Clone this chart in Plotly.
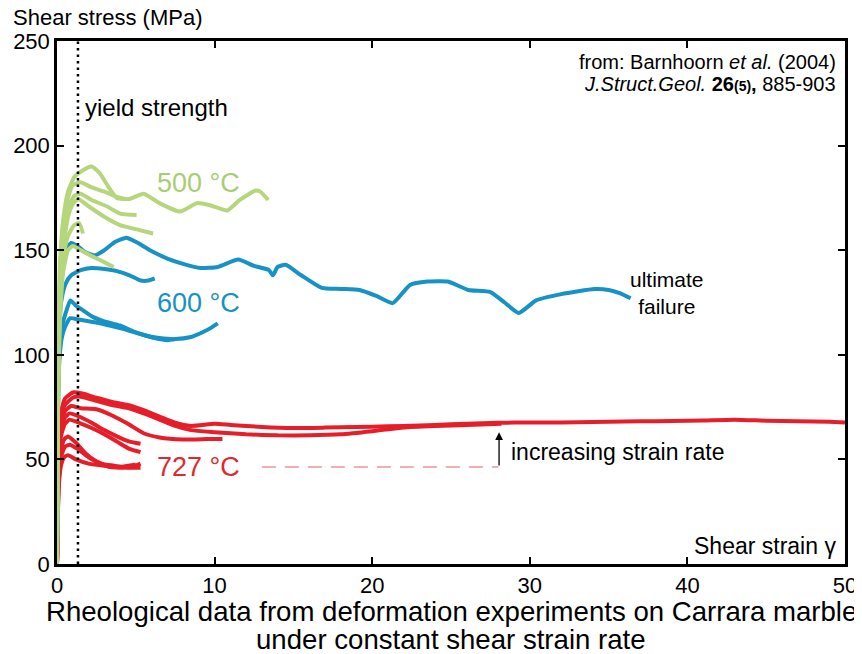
import plotly.graph_objects as go

# ---------------- data ----------------
# 727 °C (red)
r1_x = [0, 0.05, 0.12, 0.25, 0.5, 1.0, 1.6, 2.5, 3.5, 4.5, 5.5, 6.5, 7.5, 8.5, 10, 11, 13, 15, 17, 19, 21, 23, 25, 27, 29, 31, 33, 35, 37, 39, 41, 43, 45, 47, 49, 50]
r1_y = [0, 35, 60, 72, 79, 82, 81.5, 79.5, 77.5, 76, 73.5, 70.5, 67.5, 66, 67, 66.5, 65.5, 65, 65.2, 65.5, 65.8, 66.2, 66.8, 67.3, 67.6, 67.6, 67.8, 68, 68.2, 68.3, 68.6, 69, 68.5, 68.2, 68, 67.6]
r2_x = [0, 0.05, 0.12, 0.25, 0.5, 1.0, 1.5, 2.5, 3.5, 4.5, 5.5, 6.5, 7.5, 8.5, 10, 12, 14, 16, 18, 20, 22, 24, 26, 28.2]
r2_y = [0, 33, 58, 70, 76, 79.5, 80, 78, 76, 74.5, 72, 69, 66, 64, 63, 62, 61.5, 61.5, 62, 63.5, 65.3, 66, 66.5, 67]
r3_x = [0, 0.05, 0.12, 0.25, 0.5, 0.9, 1.5, 2.5, 3.5, 4.5, 5.5, 6.5, 8, 9.5, 10.5]
r3_y = [0, 30, 55, 67, 73, 75.5, 74.5, 74, 71, 67, 62.5, 60.5, 59.5, 59.7, 59.8]
r4_x = [0, 0.05, 0.12, 0.25, 0.5, 0.8, 1.4, 2.2, 3.0, 3.8, 4.6, 5.3]
r4_y = [0, 30, 52, 63, 70, 72, 70.5, 67.5, 64, 61, 58.5, 57.5]
r5_x = [0, 0.05, 0.12, 0.25, 0.5, 0.8, 1.4, 2.2, 3.0, 3.8, 4.6, 5.3]
r5_y = [0, 28, 50, 61, 67, 69, 67.5, 65, 62, 58.5, 55, 53.5]
r6_x = [0, 0.05, 0.12, 0.25, 0.45, 0.7, 1.2, 1.8, 2.5, 3.3, 4.2, 5.0, 5.3]
r6_y = [0, 25, 44, 54, 59.5, 61, 58, 53, 49, 46.5, 46, 47, 48]
r7_x = [0, 0.05, 0.12, 0.25, 0.5, 0.8, 1.3, 2.0, 2.8, 3.6, 4.5, 5.3]
r7_y = [0, 23, 41, 51, 56, 57, 55, 51, 48, 47, 46, 46]
r8_x = [0, 0.05, 0.12, 0.25, 0.45, 0.7, 1.2, 2.0, 3.0, 4.0, 5.0]
r8_y = [0, 22, 38, 47, 51, 52, 50, 48, 47, 46.5, 47.5]

# 600 °C (blue)
b1_x = [0, 0.03, 0.08, 0.15, 0.3, 0.55, 0.9, 1.3, 1.8, 2.4, 3.0, 3.7, 4.4, 5.0, 5.9, 7.0, 8.0, 9.1, 10.2, 11.5, 12.5, 13.45, 13.7, 14.0, 14.5, 15.5, 16.8, 18.0, 19.2, 20.3, 21.3, 22.4, 23.5, 24.8, 26.1, 27.5, 28.4, 29.3, 30.4, 32, 34.1, 35.0, 35.7, 36.4]
b1_y = [0, 60, 100, 125, 140, 150, 153.5, 152, 149, 147.5, 150, 154, 156, 154, 150, 146, 143.5, 141.5, 142, 145.5, 142.5, 140.5, 138, 142, 143, 138, 132, 131.5, 131, 128, 124.7, 133.4, 135, 135, 131, 130, 125, 120, 126, 129, 131.4, 131, 129.5, 127]
b2_x = [0, 0.03, 0.08, 0.15, 0.3, 0.55, 0.9, 1.5, 2.2, 3.0, 3.8, 4.6, 5.3, 5.8, 6.2]
b2_y = [0, 55, 95, 115, 127, 134, 138, 140.5, 141.5, 141, 140, 138, 135.5, 135.5, 136.5]
b3_x = [0, 0.03, 0.08, 0.15, 0.3, 0.55, 0.85, 1.2, 1.7, 2.3, 3.0, 4.0, 4.9, 5.7, 6.5, 7.5, 8.5, 9.3, 9.8, 10.2]
b3_y = [0, 50, 85, 103, 113, 120, 126, 123.5, 121, 118, 116, 114, 111, 109, 108, 107.5, 108.5, 111, 113, 115]
b4_x = [0, 0.03, 0.08, 0.15, 0.3, 0.55, 0.85, 1.3, 2.0, 2.8, 3.6, 4.4, 5.3, 6.2, 7.0, 7.5]
b4_y = [0, 48, 80, 97, 108, 114, 117.5, 117, 116, 115, 113.5, 112, 110, 108, 107, 107.5]

# 500 °C (green)
g1_x = [0, 0.04, 0.1, 0.2, 0.4, 0.7, 1.1, 1.6, 2.2, 2.7, 3.2, 3.8, 4.6, 5.5, 6.5, 7.8, 8.9, 9.7, 10.8, 11.6, 12.6, 12.9, 13.4]
g1_y = [0, 70, 115, 145, 165, 178, 185, 188, 190, 187, 181, 175, 174.5, 177, 172.5, 168.5, 172.5, 171.5, 169, 174, 178.5, 178, 174]
g2_x = [0, 0.04, 0.1, 0.2, 0.4, 0.7, 1.0, 1.5, 2.2, 3.0, 3.8, 4.3]
g2_y = [0, 68, 110, 140, 162, 175, 181, 182.5, 180, 178, 175.5, 174.5]
g3_x = [0, 0.04, 0.1, 0.2, 0.4, 0.7, 1.1, 1.5, 2.2, 3.15, 4.0, 5.05]
g3_y = [0, 65, 105, 135, 157, 170, 176, 177, 174, 171, 167.5, 166.8]
g4_x = [0, 0.04, 0.1, 0.2, 0.4, 0.7, 1.0, 1.35, 2.0, 3.0, 4.0, 5.3, 6.1]
g4_y = [0, 63, 100, 130, 152, 166, 172, 174.5, 171, 166, 162, 159.5, 158]
g5_x = [0, 0.04, 0.1, 0.2, 0.4, 0.7, 1.1, 1.4, 1.65]
g5_y = [0, 60, 95, 125, 147, 157, 162, 163, 158]
g6_x = [0, 0.04, 0.1, 0.2, 0.4, 0.7, 1.0, 1.4, 2.0, 2.8, 3.6]
g6_y = [0, 58, 90, 118, 140, 150, 152, 150.5, 148, 145, 142]

x_ticks = [0, 10, 20, 30, 40, 50]
y_ticks = [0, 50, 100, 150, 200, 250]
yield_strain = 1.33

RED = "#e61e2a"
BLUE = "#1692c4"
GREEN = "#b6d67c"
FONT = "Liberation Sans, Arial, sans-serif"

fig = go.Figure()

def add(xs, ys, color):
    fig.add_trace(go.Scatter(x=xs, y=ys, mode="lines",
                             line=dict(color=color, width=4, shape="spline", smoothing=0.5),
                             hoverinfo="skip", showlegend=False))

for xs, ys in [(r8_x, r8_y), (r7_x, r7_y), (r6_x, r6_y), (r5_x, r5_y), (r4_x, r4_y),
               (r3_x, r3_y), (r2_x, r2_y), (r1_x, r1_y)]:
    add(xs, ys, RED)
for xs, ys in [(b4_x, b4_y), (b3_x, b3_y), (b2_x, b2_y), (b1_x, b1_y)]:
    add(xs, ys, BLUE)
for xs, ys in [(g6_x, g6_y), (g5_x, g5_y), (g4_x, g4_y), (g3_x, g3_y), (g2_x, g2_y), (g1_x, g1_y)]:
    add(xs, ys, GREEN)

# yield strength dotted line
fig.add_shape(type="line", x0=yield_strain, x1=yield_strain, y0=0, y1=250, xref="x", yref="y",
              line=dict(color="black", width=2.5, dash="2.5px,4px"))
# dashed strain-rate line
fig.add_shape(type="line", x0=13.0, x1=28.0, y0=46.4, y1=46.4, xref="x", yref="y",
              line=dict(color="#e8979a", width=1.5, dash="14px,9px"))

ann = []
ann.append(dict(x=28.05, y=63.0, ax=28.05, ay=46.4, xref="x", yref="y", axref="x", ayref="y",
                showarrow=True, arrowhead=2, arrowsize=1.2, arrowwidth=1.3, arrowcolor="black", text=""))
ann.append(dict(x=28.7, y=53.5, xref="x", yref="y", text="increasing strain rate", showarrow=False,
                xanchor="left", yanchor="middle", font=dict(family=FONT, size=23, color="black")))
ann.append(dict(x=38.7, y=129.5, xref="x", yref="y", text="ultimate<br>failure", showarrow=False,
                xanchor="center", yanchor="middle", align="center",
                font=dict(family=FONT, size=21, color="black")))
ann.append(dict(x=1.65, y=218, xref="x", yref="y", text="yield strength", showarrow=False,
                xanchor="left", yanchor="middle", font=dict(family=FONT, size=24, color="black")))
ann.append(dict(x=8.97, y=182, xref="x", yref="y", text="500 °C", showarrow=False,
                xanchor="center", yanchor="middle", font=dict(family=FONT, size=27, color="#a9cd72")))
ann.append(dict(x=9.0, y=124.8, xref="x", yref="y", text="600 °C", showarrow=False,
                xanchor="center", yanchor="middle", font=dict(family=FONT, size=27, color=BLUE)))
ann.append(dict(x=9.0, y=46.4, xref="x", yref="y", text="727 °C", showarrow=False,
                xanchor="center", yanchor="middle", font=dict(family=FONT, size=27, color="#df2930")))
ann.append(dict(x=49.55, y=8.5, xref="x", yref="y", text="Shear strain γ", showarrow=False,
                xanchor="right", yanchor="middle", font=dict(family=FONT, size=23, color="black")))
ann.append(dict(x=49.55, y=240, xref="x", yref="y", text="from: Barnhoorn <i>et al.</i> (2004)",
                showarrow=False, xanchor="right", yanchor="middle",
                font=dict(family=FONT, size=20, color="black")))
ann.append(dict(x=49.55, y=229.5, xref="x", yref="y",
                text="<i>J.Struct.Geol.</i> <b>26</b><b><span style='font-size:14px'>(5)</span>,</b> 885-903",
                showarrow=False, xanchor="right", yanchor="middle",
                font=dict(family=FONT, size=20, color="black")))
ann.append(dict(x=-0.0571, y=1.044, xref="paper", yref="paper", text="Shear stress (MPa)",
                showarrow=False, xanchor="left", yanchor="middle", borderpad=0,
                font=dict(family=FONT, size=22, color="black")))
ann.append(dict(x=0.5, y=-0.09, xref="paper", yref="paper",
                text="Rheological data from deformation experiments on Carrara marble",
                showarrow=False, xanchor="center", yanchor="middle", borderpad=0,
                font=dict(family=FONT, size=27.6, color="black")))
ann.append(dict(x=0.5, y=-0.144, xref="paper", yref="paper",
                text="under constant shear strain rate",
                showarrow=False, xanchor="center", yanchor="middle", borderpad=0,
                font=dict(family=FONT, size=27.6, color="black")))

# page body adds an 8px offset, so margins are shifted to keep the plot frame at
# left 57, top 41, right 845, bottom 564 in the window
fig.update_layout(
    width=862, height=654,
    margin=dict(l=49, r=25, t=33, b=98, autoexpand=False),
    plot_bgcolor="white", paper_bgcolor="white",
    annotations=ann,
    font=dict(family=FONT, size=22, color="black"),
    xaxis=dict(range=[0, 50], tickvals=x_ticks, ticktext=[str(v) for v in x_ticks],
               ticks="inside", ticklen=7, tickwidth=2, tickcolor="black",
               showline=True, linewidth=2.5, linecolor="black", mirror="ticks",
               showgrid=False, zeroline=False, automargin=False,
               tickfont=dict(family=FONT, size=22)),
    yaxis=dict(range=[0, 250], tickvals=y_ticks, ticktext=[str(v) for v in y_ticks],
               ticks="inside", ticklen=7, tickwidth=2, tickcolor="black",
               showline=True, linewidth=2.5, linecolor="black", mirror="ticks",
               showgrid=False, zeroline=False, automargin=False,
               tickfont=dict(family=FONT, size=22)),
)

fig.write_html("out.html")
